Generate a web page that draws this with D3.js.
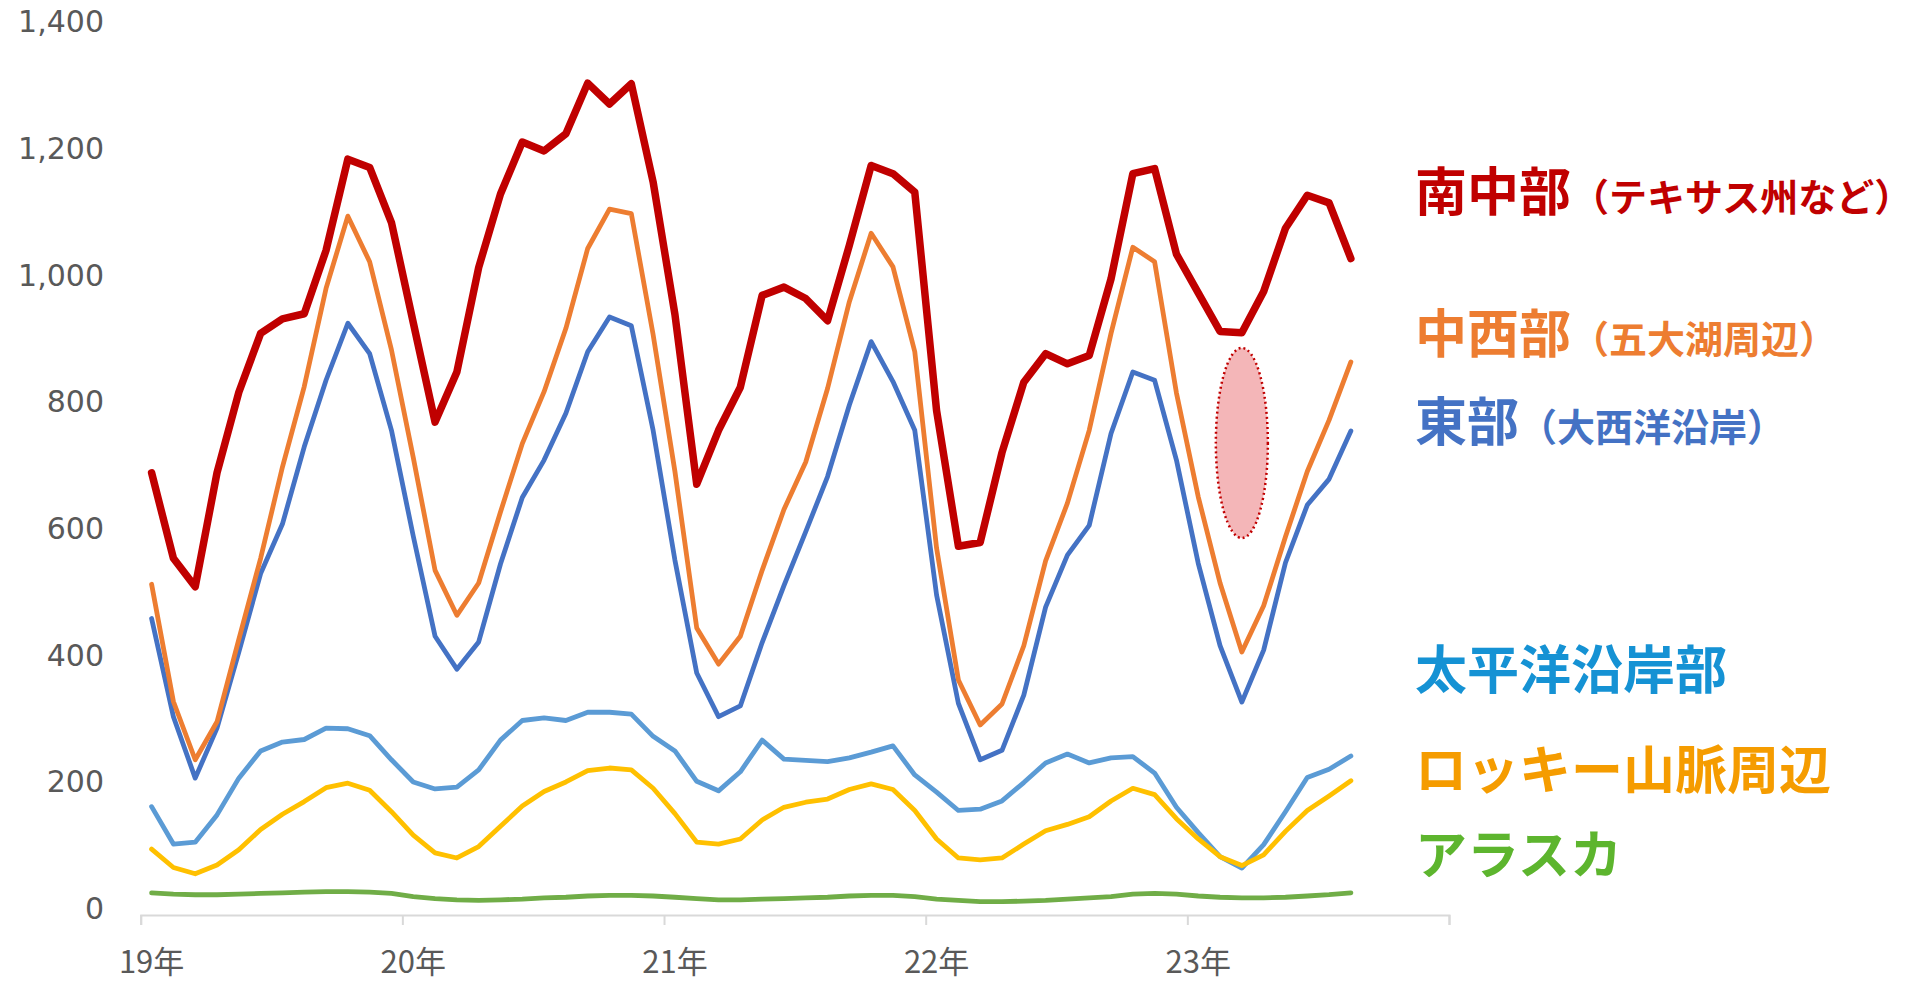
<!DOCTYPE html>
<html>
<head>
<meta charset="utf-8">
<script src="https://cdn.jsdelivr.net/npm/d3@7"></script>
<style>
  body { margin: 0; background: #fff; }
  svg { display: block; }
</style>
</head>
<body>
<script>
// jaren op de x-as, elke jaar 12 maanden
var years = ["19年", "20年", "21年", "22年", "23年"]
var months = [1, 2, 3, 4, 5, 6, 7, 8, 9, 10, 11, 12]

// maandwaarden 2019-01 t/m 2023-08
var southCentral = [698, 563, 518, 698, 825, 918, 941, 949, 1049, 1193, 1180, 1093,
  935, 778, 857, 1022, 1138, 1220, 1206, 1233, 1313, 1280, 1312, 1157,
  948, 680, 765, 833, 978, 991, 973, 938, 1057, 1183, 1170, 1141,
  796, 582, 588, 730, 841, 886, 870, 883, 1004, 1170, 1178, 1043,
  982, 921, 919, 984, 1084, 1136, 1124, 1036]
var midwest = [522, 337, 245, 305, 435, 563, 707, 834, 989, 1103, 1031, 892,
  722, 544, 473, 524, 636, 744, 826, 926, 1052, 1114, 1107, 916,
  700, 453, 396, 440, 544, 640, 715, 831, 968, 1076, 1023, 889,
  579, 371, 300, 333, 425, 559, 650, 765, 918, 1054, 1031, 824,
  660, 524, 415, 488, 597, 700, 781, 873]
var east = [468, 313, 216, 295, 415, 539, 617, 739, 844, 934, 886, 765,
  598, 440, 388, 431, 554, 659, 718, 792, 889, 944, 930, 765,
  560, 382, 313, 330, 430, 520, 605, 692, 805, 905, 842, 765,
  505, 334, 245, 260, 347, 486, 568, 615, 760, 857, 844, 718,
  555, 425, 336, 418, 556, 647, 688, 764]
var pacific = [171, 112, 115, 158, 216, 259, 273, 277, 295, 294, 283, 245,
  210, 199, 202, 229, 276, 307, 311, 307, 320, 320, 317, 282,
  259, 211, 196, 226, 276, 246, 244, 242, 248, 257, 267, 221,
  194, 165, 167, 180, 209, 240, 254, 240, 248, 250, 224, 170,
  130, 92, 74, 111, 163, 217, 230, 251]
var mountain = [104, 75, 65, 79, 103, 135, 159, 179, 201, 208, 197, 163,
  126, 98, 90, 108, 140, 172, 195, 210, 228, 232, 229, 200,
  160, 115, 112, 120, 150, 170, 178, 183, 198, 207, 198, 165,
  120, 90, 87, 90, 112, 133, 143, 155, 180, 200, 190, 152,
  120, 92, 78, 95, 132, 165, 188, 212]
var alaska = [35, 33, 32, 32, 33, 34, 35, 36, 37, 37, 36, 34,
  29, 26, 24, 23, 24, 25, 27, 28, 30, 31, 31, 30,
  28, 26, 24, 24, 25, 26, 27, 28, 30, 31, 31, 29,
  25, 23, 21, 21, 22, 23, 25, 27, 29, 33, 34, 33,
  30, 28, 27, 27, 28, 30, 32, 35]

var yTicks = [0, 200, 400, 600, 800, 1000, 1200, 1400]

// markering: maand-index en waardebereik van de ellips
var highlight = {month: 50, low: 595, high: 895}

var width = 1911
var height = 985
var plot = {left: 140.7, right: 1449, top: 28, bottom: 915}

var svg = d3.select("body").append("svg")
    .attr("width", width)
    .attr("height", height)

var categories = []
years.forEach(function(yr) {
  months.forEach(function(m) { categories.push(yr + "-" + m) })
})

var xScale = d3.scaleBand().domain(categories).range([plot.left, plot.right])
var idxScale = d3.scaleLinear().domain([0, categories.length]).range([plot.left, plot.right])
var yScale = d3.scaleLinear().domain([0, 1400]).range([plot.bottom, plot.top])

var xPos = function(i) { return xScale(categories[i]) + xScale.bandwidth() / 2 }

// y as labels
var yAxis = svg.append("g")
    .attr("transform", "translate(104,0)")
    .call(d3.axisLeft(yScale).tickValues(yTicks).tickSize(0).tickPadding(0).tickFormat(d3.format(",")))
yAxis.select(".domain").remove()
yAxis.selectAll("text")
    .attr("dy", "0.12em")
    .style("font-family", "'DejaVu Sans', Verdana, sans-serif")
    .style("font-size", "30px")
    .style("fill", "#595959")

// x as lijn met streepjes tussen de jaren
var xAxis = svg.append("g")
    .attr("transform", "translate(0," + plot.bottom + ")")
    .call(d3.axisBottom(idxScale).tickValues(d3.range(0, categories.length + 1, 12)).tickSize(10).tickFormat(""))
xAxis.select(".domain").attr("stroke", "#D9D9D9").attr("stroke-width", 2)
xAxis.selectAll(".tick line").attr("stroke", "#D9D9D9").attr("stroke-width", 2)

// jaarlabels onder januari
var janCats = categories.filter(function(c) { return c.endsWith("-1") })
var xLabels = svg.append("g")
    .attr("transform", "translate(0," + plot.bottom + ")")
    .call(d3.axisBottom(xScale).tickValues(janCats).tickSize(0).tickPadding(0)
      .tickFormat(function(c) { return c.split("-")[0] }))
xLabels.select(".domain").remove()
xLabels.selectAll("text")
    .attr("dy", "58")
    .style("font-family", "'Noto Sans CJK JP', sans-serif")
    .style("font-size", "31px")
    .style("fill", "#595959")

// de lijnen
var series = [
  {values: pacific, color: "#5B9BD5", width: 4.8},
  {values: mountain, color: "#FFC000", width: 4.8},
  {values: alaska, color: "#70AD47", width: 4.8},
  {values: east, color: "#4472C4", width: 4.8},
  {values: midwest, color: "#ED7D31", width: 4.8},
  {values: southCentral, color: "#C00000", width: 7.5}
]

var line = d3.line()
    .x(function(d, i) { return xPos(i) })
    .y(function(d) { return yScale(d) })

svg.selectAll(".serie")
    .data(series)
    .enter().append("path")
    .attr("class", "serie")
    .attr("d", function(s) { return line(s.values) })
    .attr("fill", "none")
    .attr("stroke", function(s) { return s.color })
    .attr("stroke-width", function(s) { return s.width })
    .attr("stroke-linejoin", "round")
    .attr("stroke-linecap", "round")

// ellips rond de dip van 23年
svg.append("ellipse")
    .attr("cx", xPos(highlight.month))
    .attr("cy", yScale((highlight.low + highlight.high) / 2))
    .attr("rx", 26)
    .attr("ry", (yScale(highlight.low) - yScale(highlight.high)) / 2)
    .attr("fill", "#F4B6B8")
    .attr("stroke", "#C00000")
    .attr("stroke-width", 2.5)
    .attr("stroke-dasharray", "2,3")

// labels rechts
var labels = [
  {main: "南中部", sub: "（テキサス州など）", color: "#C00000", y: 211},
  {main: "中西部", sub: "（五大湖周辺）", color: "#ED7D31", y: 353},
  {main: "東部", sub: "（大西洋沿岸）", color: "#4472C4", y: 441},
  {main: "太平洋沿岸部", sub: "", color: "#1592D4", y: 689},
  {main: "ロッキー山脈周辺", sub: "", color: "#F59C00", y: 789},
  {main: "アラスカ", sub: "", color: "#5DB52E", y: 874}
]

var label = svg.selectAll(".label")
    .data(labels)
    .enter().append("text")
    .attr("class", "label")
    .attr("x", 1415)
    .attr("y", function(d) { return d.y })
    .style("font-family", "'Noto Sans CJK JP', sans-serif")
    .style("font-weight", "bold")
    .style("fill", function(d) { return d.color })

label.append("tspan")
    .style("font-size", "52px")
    .text(function(d) { return d.main })

label.append("tspan")
    .style("font-size", "38px")
    .text(function(d) { return d.sub })
</script>
</body>
</html>
